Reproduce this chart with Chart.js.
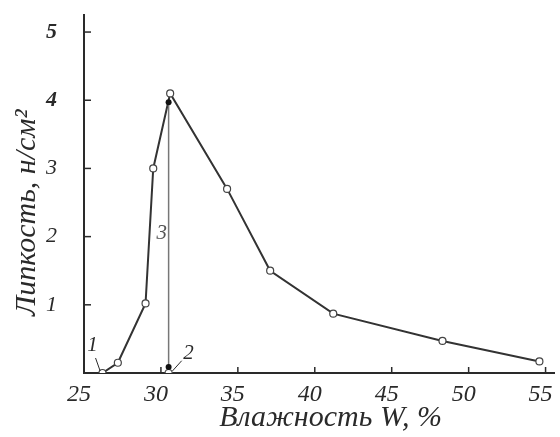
<!DOCTYPE html>
<html>
<head>
<meta charset="utf-8">
<script src="https://cdn.jsdelivr.net/npm/chart.js@4"></script>
<style>
  html, body { margin: 0; padding: 0; background: #fff; }
  #wrap { width: 560px; height: 437px; }
</style>
</head>
<body>
<div id="wrap"><canvas id="chart"></canvas></div>
<script>
// влажность W, % and липкость, н/см2
const moisture = [26.2, 27.2, 29.0, 29.5, 30.6, 34.3, 37.1, 41.2, 48.3, 54.6];
const stickiness = [0.0, 0.15, 1.02, 3.0, 4.1, 2.7, 1.5, 0.87, 0.47, 0.17];
// vertical line "3" at the peak moisture
const peakW = [30.5, 30.5];
const peakY = [0.0, 3.97];
const xTicks = [25, 30, 35, 40, 45, 50, 55];
const yTicks = [1, 2, 3, 4, 5];
// curve labels: text, W, value
const labelText = ["1", "2", "3"];
const labelW = [25.55, 31.8, 30.05];
const labelY = [0.4, 0.28, 2.05];

const ink = "#2a2a2a";
const serif = "'Liberation Serif', 'DejaVu Serif', serif";

const mainPts = moisture.map((w, i) => ({ x: w, y: stickiness[i] }));
const vertPts = peakW.map((w, i) => ({ x: w, y: peakY[i] }));

// tick marks pointing into the plot, plus the little curve numbers
const innerBits = {
  id: "innerBits",
  afterDatasetsDraw(chart) {
    const { ctx, scales: { x, y } } = chart;
    ctx.save();
    ctx.strokeStyle = ink;
    ctx.lineWidth = 1.5;
    xTicks.forEach(v => {
      const px = x.getPixelForValue(v);
      ctx.beginPath();
      ctx.moveTo(px, y.bottom);
      ctx.lineTo(px, y.bottom - 6);
      ctx.stroke();
    });
    yTicks.forEach(v => {
      const py = y.getPixelForValue(v);
      ctx.beginPath();
      ctx.moveTo(x.left, py);
      ctx.lineTo(x.left + 7, py);
      ctx.stroke();
    });
    ctx.font = "italic 21px " + serif;
    ctx.textAlign = "center";
    ctx.textBaseline = "middle";
    labelText.forEach((t, i) => {
      const px = x.getPixelForValue(labelW[i]);
      const py = y.getPixelForValue(labelY[i]);
      if (t === "3") {
        ctx.fillStyle = "#fff";
        ctx.fillRect(px - 5, py - 10, 10, 20);
        ctx.fillStyle = "#555";
      } else {
        ctx.fillStyle = ink;
      }
      ctx.fillText(t, px, py);
    });
    // leader strokes for 1 and 2
    ctx.lineWidth = 1;
    ctx.beginPath();
    ctx.moveTo(x.getPixelForValue(25.75), y.getPixelForValue(0.22));
    ctx.lineTo(x.getPixelForValue(26.05), y.getPixelForValue(0.03));
    ctx.moveTo(x.getPixelForValue(31.35), y.getPixelForValue(0.18));
    ctx.lineTo(x.getPixelForValue(30.75), y.getPixelForValue(0.03));
    ctx.stroke();
    // black dots at the ends of the vertical line
    ctx.fillStyle = "#111";
    vertPts.forEach(p => {
      ctx.beginPath();
      ctx.arc(x.getPixelForValue(p.x), y.getPixelForValue(p.y) - (p.y === 0 ? 6 : 0), 3, 0, Math.PI * 2);
      ctx.fill();
    });
    ctx.restore();
  }
};

new Chart(document.getElementById("chart"), {
  type: "scatter",
  data: {
    datasets: [
      {
        data: vertPts,
        showLine: true,
        borderColor: "#777",
        borderWidth: 1.5,
        pointRadius: [3.5, 0],
        pointBackgroundColor: "#fff",
        pointBorderColor: "#555",
        pointBorderWidth: 1.2,
      },
      {
        data: mainPts,
        showLine: true,
        borderColor: "#333",
        borderWidth: 2,
        pointRadius: 3.5,
        pointBackgroundColor: "#fff",
        pointBorderColor: "#444",
        pointBorderWidth: 1.2,
      },
    ],
  },
  options: {
    responsive: true,
    maintainAspectRatio: false,
    animation: false,
    layout: { padding: { top: 15, right: 2, left: 12, bottom: 4 } },
    plugins: { legend: { display: false }, tooltip: { enabled: false } },
    scales: {
      x: {
        type: "linear",
        min: 25,
        max: 55.6,
        afterBuildTicks: s => { s.ticks = xTicks.map(v => ({ value: v })); },
        grid: { display: false, drawTicks: false },
        border: { display: true, color: ink, width: 2 },
        ticks: {
          color: ink,
          padding: 7,
          labelOffset: -5,
          maxRotation: 0,
          font: { family: serif, style: "italic", size: 24 },
        },
        title: {
          display: true,
          text: "   Влажность W, %",
          color: ink,
          padding: { top: 0, bottom: 0 },
          font: { family: serif, style: "italic", size: 30, lineHeight: 1 },
        },
        afterFit: s => { s.height = 60; s.paddingLeft = 0; s.paddingRight = 0; },
      },
      y: {
        min: 0,
        max: 5.25,
        afterBuildTicks: s => { s.ticks = yTicks.map(v => ({ value: v })); },
        grid: { display: false, drawTicks: false },
        border: { display: true, color: ink, width: 2 },
        ticks: {
          color: ink,
          padding: 27,
          font: c => ({
            family: serif,
            style: "italic",
            size: 22,
            weight: c.tick && c.tick.value >= 4 ? "bold" : "normal",
          }),
        },
        title: {
          display: true,
          text: "Липкость, н/см²     ",
          color: ink,
          padding: { top: 0, bottom: 0 },
          font: { family: serif, style: "italic", size: 30, lineHeight: 1 },
        },
        afterFit: s => { s.width = 72; s.paddingTop = 0; s.paddingBottom = 0; },
      },
    },
  },
  plugins: [innerBits],
});
</script>
</body>
</html>
